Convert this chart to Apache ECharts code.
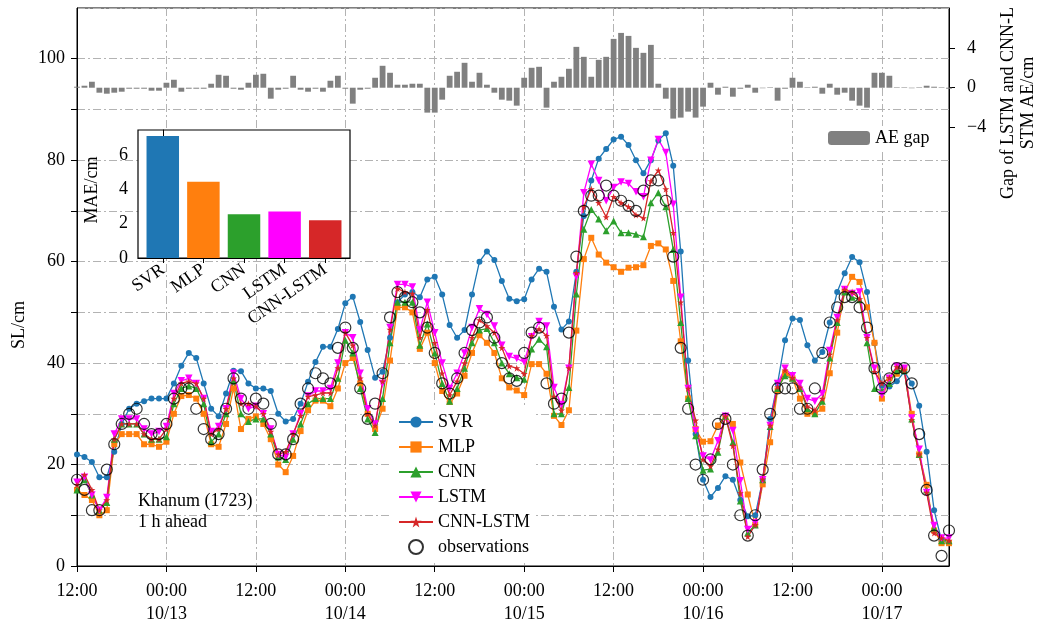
<!DOCTYPE html>
<html><head><meta charset="utf-8">
<script src="https://cdn.jsdelivr.net/npm/echarts@6/dist/echarts.min.js"></script>
<style>html,body{margin:0;padding:0;background:#fff}#c{width:1043px;height:627px}</style>
</head><body><div id="c"></div>
<script>
// hourly values from 10/12 12:00 (index 0) to index 117
const observations = [17,15,11,11,19,24,28,30,31,28,26,26,28,33,35,35,31,27,25,26,31,37,33,31,33,32,28,22,22,25,
32,35,38,37,36,43,47,43,35,29,32,38,49,54,53,52,50,47,42,36,34,37,42,46.5,48,49,45,40,37,36.5,
42,46,47,36,32,33,46,61,70,73,73,75,73,72,71,70,74,76,76,72,61,43,31,20,17,21,28,29,20,10,
6,10,19,30,35,35,35,31,31,35,42,48,51,53,53,51,47,39,35,37,39,39,36,26,15,6,2,7];
const svr = [22,21.5,20.5,17.5,17.5,22.5,28,31,32,32.5,33,33,33,36,39.5,42,41,36,31,29.5,34,38.5,38.4,36,35,35,34.5,30,28.5,29,
32,36.3,40.2,43.2,43.2,46.7,51.8,53.1,48.1,42.6,37.1,38.3,45,52,53.5,54,53,56.5,57,53.5,47.5,45,46.5,53.5,60,62,60.3,56.2,52.7,52.2,
52.6,56.5,58.6,58,51.1,46.6,48.2,58,69,76,80.3,82.2,84.1,84.6,83,80,77.4,80,83.9,85.3,78.9,62,40.5,26,17,13.6,15.4,17.7,17,13,
9.8,10,17,29,36,44.5,48.8,48.5,43.5,40.5,42.2,48,54,57.7,60.9,59.9,54,43.9,35.6,35.4,36.4,38.3,36,31.6,22.5,11,5,4.5];
const mlp = [15,14,13,10,11,24,26,26,26,24,24,23.5,24.5,30,33.5,33.7,33,30,24,23.5,28,35,27,29,29.5,28,25,20,18.5,21.7,
26.6,30.7,32.6,32.6,31.5,35,40,41,36,30,27,31,40.5,51,51,50,42.8,46,40,34.5,32,34,37.5,42,45.5,44,42,37,35.2,34.6,
33.7,39.8,39.8,37.9,29.6,27.8,30.7,46.4,60.5,64.7,61.4,59.8,58.9,58,58.8,58.9,59.3,63.1,63.6,62.4,56.2,44.3,33,27,24.5,24.6,27.7,29.5,28,20.4,
14.1,8.1,16.1,24.4,34.6,38,37,33,30,30,31,38,46,54,57,56,51,44,33,37,37.9,39,30,22,16,7,4.5,4.5];
const cnn = [15,17,14,11,12.5,25,28,28,28,26,25,25,25.5,32,35,35.5,35,32,24.5,26,30,36.5,30,28.5,29,29,26,21.5,21,25,
28,32,33,33,33,37,44.5,42,35,29,26.3,33,44,52,52,52,43.5,47.7,42,36,32.5,35,39,44,46.5,46.8,44,40,37.9,37.1,
36.8,42.8,44.7,43.2,30,30,35.2,53.6,66.4,70.3,68.4,66.1,68,65.7,65.7,65.4,64.9,71.6,73.6,70.8,62.4,48,33,25.7,18.9,19.1,22.4,29.5,24.4,12.8,
6.5,8.1,17,27.5,35,37.5,37,35,31,30,32.5,41,48,54,53,52.5,44,35,34.5,36,38.5,38.5,29,22,15,7.5,5,5];
const lstm = [16.5,17.5,14,11,13.5,26,29,29,29,27,26,26.5,27.5,34,36.5,37,36,33,26.5,27.5,31,38,33,31,31.5,30,27,22,21.5,26,
30,33.5,34.5,34.5,35,40,46,45,38,31,28,36,47,55.5,55.5,55,46.5,52,46,40,35,38,42,47,50.7,49.6,47.3,43.5,41.3,40.9,
40.2,45.2,48.2,47.3,35.2,31.8,39,57,73.6,79.2,76,72,74.6,75.7,75.4,73.8,72.8,80,84.1,81.5,71.3,53,35,26.7,21.7,20.9,24.7,29.5,26.7,16.8,
7.2,8.5,17,27.7,36,39,37.5,36,33,32.5,34,42.5,49,54.5,53.7,54,45,39,33.7,37,39.4,39,29.2,23,14.5,8,5.5,5.5];
const cnnLstm = [16,18,15,11,13,25,28,28,28,26,25,25,27,33,36,36.4,36,33,26,27,31,37,32,32,31.5,30,26.5,22,22.5,26,
29.6,33.4,33.7,34.1,34.1,39,46,43.5,37,30,27.7,36.4,46.6,54.7,54,53.7,45,50.5,44,38,33.7,36.4,40,45,48.5,47.3,46,43,39.4,39,
37.9,45.4,46.7,45.4,33.4,30.7,39,57.8,70.8,74.3,71.6,68.8,72.8,71.6,70.8,69.2,68.6,75.9,78,74.3,65.7,52,35,28.7,21,19.7,23,29.5,23.7,14.4,
5.8,8.1,17.1,27.7,35.3,38.6,37.1,35.2,31.5,30.7,33,41.7,48.5,54.5,54,52.6,45,38.3,36,37.1,39.2,38.6,28.8,22,14.5,6.5,5.5,5];
const aeGap = [0.1,0.2,0.6,-0.5,-0.6,-0.5,-0.4,-0.1,-0.1,-0.1,-0.3,-0.3,0.5,0.8,-0.4,-0.1,-0.1,-0.1,0.4,1.3,1.2,-0.1,-0.2,0.5,1.3,1.4,-1.1,-0.2,-0.1,1.2,
-0.2,-0.4,-0.1,-0.4,0.7,1.2,-0.1,-1.6,-0.2,-0.1,1.0,2.2,1.5,0.3,0.3,0.4,0.4,-2.5,-2.5,-1.2,1.2,1.6,2.5,0.6,1.5,0.3,-0.5,-1.2,-1.3,-1.8,
1.0,2.0,2.1,-2.0,0.6,1.1,1.9,4.1,3.1,1.1,2.8,3.1,4.9,5.5,5.2,4.0,3.5,4.3,0.4,-1.1,-3.1,-3.0,-2.4,-3.0,-1.9,0.5,-0.7,0.1,-0.9,-0.1,
0.3,-0.5,-0.05,0.05,-1.3,-0.1,1.0,0.6,0.05,0.1,-0.6,0.4,-0.7,-0.5,-1.3,-1.8,-2.0,1.5,1.5,1.2,0.05,0.05,-0.05,0.05,0.2,0.1,0.05,-0.1];
const models = ['SVR','MLP','CNN','LSTM','CNN-LSTM'];
const maeValues = [7.12,4.45,2.55,2.72,2.2];
const dateLabels = ['10/13','10/14','10/15','10/16','10/17'];
const leftTicks = [0,20,40,60,80,100];
const rightTicks = [-4,0,4];
const maeTicks = [0,2,4,6];

const colors = {SVR:'#1f77b4', MLP:'#ff7f0e', CNN:'#2ca02c', LSTM:'#ff00ff', 'CNN-LSTM':'#d62728'};
const FONT = '"Liberation Serif","Times New Roman",serif';
const DASH = [8,3,2,3];
const STAR = 'path://M50,0 L61,35 L98,35 L68,57 L79,91 L50,70 L21,91 L32,57 L2,35 L39,35 Z';
const pair = arr => arr.map((v,i)=>[i,v]);

function lineSeries(name, data, symbol, size, rotate){
  return {name, type:'line', data:pair(data), xAxisIndex:0, yAxisIndex:0,
    symbol, symbolSize:size, symbolRotate:rotate||0, showSymbol:true,
    lineStyle:{color:colors[name], width:1.3}, itemStyle:{color:colors[name]},
    emphasis:{disabled:true}, z:3};
}

const chart = echarts.init(document.getElementById('c'), null, {renderer:'canvas'});
chart.setOption({
  animation:false,
  backgroundColor:'#fff',
  textStyle:{fontFamily:FONT, color:'#000'},
  grid:[
    {left:77, top:8, right:94, bottom:61, show:true, borderColor:'#000', borderWidth:1, containLabel:false},
    {left:138, top:130, width:212, height:128, show:true, borderColor:'#000', borderWidth:1.2, backgroundColor:'#fff', z:5}
  ],
  legend:[
    {data:['SVR','MLP','CNN','LSTM','CNN-LSTM','observations'], orient:'vertical', left:392, top:405,
     padding:[8,6,6,6], itemGap:7, itemWidth:34, itemHeight:14, backgroundColor:'#fff',
     textStyle:{fontFamily:FONT, fontSize:18, color:'#000'}, selectedMode:false, z:6},
    {data:['AE gap'], left:822, top:126, padding:[3,6,3,6], itemWidth:42, itemHeight:14, backgroundColor:'#fff',
     textStyle:{fontFamily:FONT, fontSize:18, color:'#000'}, selectedMode:false, z:6}
  ],
  xAxis:[
    {type:'value', gridIndex:0, min:0, max:117, interval:12,
     axisLine:{show:true, lineStyle:{color:'#000', width:1}},
     axisTick:{show:true, length:6, lineStyle:{color:'#000'}},
     axisLabel:{fontFamily:FONT, fontSize:18, color:'#000', margin:14, lineHeight:23, showMaxLabel:false,
       formatter:v=>{ if(v%12) return ''; const k=v/12; return k%2===0 ? '12:00' : '00:00\n'+dateLabels[(k-1)/2]; }},
     splitLine:{show:true, lineStyle:{color:'#b3b3b3', width:1, type:DASH}}},
    {type:'value', gridIndex:1, min:-0.61, max:4.61,
     axisLine:{show:true, lineStyle:{color:'#000'}},
     axisTick:{show:true, length:5, customValues:[0,1,2,3,4], lineStyle:{color:'#000'}},
     axisLabel:{fontFamily:FONT, fontSize:18, color:'#000', rotate:35, margin:10, customValues:[0,1,2,3,4],
       formatter:v=> Number.isInteger(v) && models[v] ? models[v] : ''},
     splitLine:{show:false}, z:6}
  ],
  yAxis:[
    {type:'value', gridIndex:0, min:0, max:110, interval:10, position:'left',
     axisLine:{show:true, lineStyle:{color:'#000'}},
     axisTick:{show:true, length:6, lineStyle:{color:'#000'}},
     axisLabel:{fontFamily:FONT, fontSize:18, color:'#000', margin:12, showMaxLabel:false,
       formatter:v=> leftTicks.includes(v) ? String(v) : ''},
     splitLine:{show:true, lineStyle:{color:'#b3b3b3', width:1, type:DASH}}},
    {type:'value', gridIndex:0, min:-48, max:8, interval:4, position:'right',
     axisLine:{show:true, lineStyle:{color:'#000'}},
     axisTick:{show:true, length:6, customValues:rightTicks, lineStyle:{color:'#000'}},
     axisLabel:{fontFamily:FONT, fontSize:18, color:'#000', margin:18, customValues:rightTicks,
       formatter:v=> rightTicks.includes(v) ? String(v).replace('-','\u2212') : ''},
     splitLine:{show:false}},
    {type:'value', gridIndex:1, min:0, max:7.47,
     axisLine:{show:true, lineStyle:{color:'#000'}},
     axisTick:{show:true, length:5, customValues:maeTicks, lineStyle:{color:'#000'}},
     axisLabel:{fontFamily:FONT, fontSize:18, color:'#000', margin:10, customValues:maeTicks,
       formatter:v=> maeTicks.includes(v) ? String(v) : ''},
     splitLine:{show:false}, z:6}
  ],
  series:[
    {name:'AE gap', type:'bar', xAxisIndex:0, yAxisIndex:1, data:pair(aeGap), barWidth:5.8,
     itemStyle:{color:'#808080'}, emphasis:{disabled:true}, z:2},
    lineSeries('SVR', svr, 'circle', 6),
    lineSeries('MLP', mlp, 'rect', 6),
    lineSeries('CNN', cnn, 'triangle', 7),
    lineSeries('LSTM', lstm, 'triangle', 7.5, 180),
    lineSeries('CNN-LSTM', cnnLstm, STAR, 7),
    {name:'observations', type:'scatter', xAxisIndex:0, yAxisIndex:0, data:pair(observations),
     symbol:'circle', symbolSize:11,
     itemStyle:{color:'rgba(0,0,0,0)', borderColor:'#000', borderWidth:1.2}, emphasis:{disabled:true}, z:4},
    {name:'MAE', type:'bar', xAxisIndex:1, yAxisIndex:2, barWidth:32.5, z:7,
     data: maeValues.map((v,i)=>({value:[i,v], itemStyle:{color:colors[models[i]]}})), emphasis:{disabled:true}}
  ],
  graphic:[
    {type:'text', left:138, top:491, z:10, style:{text:'Khanum (1723)\n1 h ahead', font:'18px '+FONT, fill:'#000', lineHeight:21}},
    {type:'text', x:19, y:325, rotation:Math.PI/2, z:10,
     style:{text:'SL/cm', font:'18px '+FONT, fill:'#000', align:'center', verticalAlign:'middle'}},
    {type:'text', x:92, y:190, rotation:Math.PI/2, z:10,
     style:{text:'MAE/cm', font:'18px '+FONT, fill:'#000', align:'center', verticalAlign:'middle'}},
    {type:'text', x:1018, y:103, rotation:Math.PI/2, z:10,
     style:{text:'Gap of LSTM and CNN-L\nSTM AE/cm', font:'18px '+FONT, fill:'#000', align:'center', verticalAlign:'middle', lineHeight:20}}
  ]
});
</script></body></html>
